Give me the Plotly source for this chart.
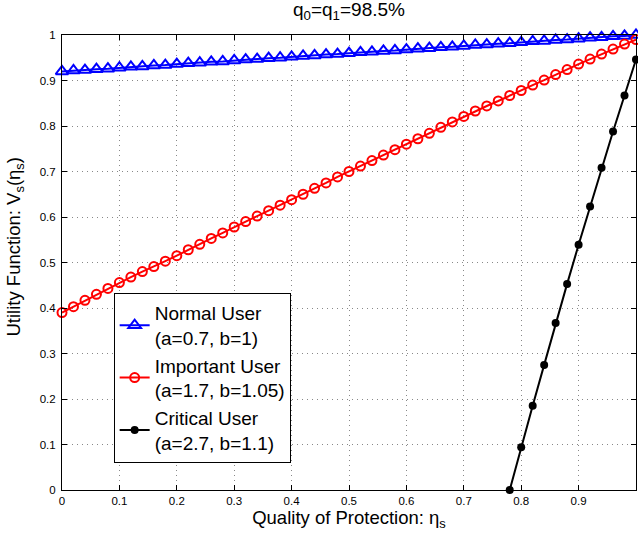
import plotly.graph_objects as go

# ---- data ----
x_common = [0.00, 0.02, 0.04, 0.06, 0.08, 0.10, 0.12, 0.14, 0.16, 0.18,
            0.20, 0.22, 0.24, 0.26, 0.28, 0.30, 0.32, 0.34, 0.36, 0.38,
            0.40, 0.42, 0.44, 0.46, 0.48, 0.50, 0.52, 0.54, 0.56, 0.58,
            0.60, 0.62, 0.64, 0.66, 0.68, 0.70, 0.72, 0.74, 0.76, 0.78,
            0.80, 0.82, 0.84, 0.86, 0.88, 0.90, 0.92, 0.94, 0.96, 0.98, 1.00]

normal_user = [0.920, 0.922, 0.923, 0.925, 0.926, 0.928, 0.930, 0.931, 0.933, 0.934,
               0.936, 0.938, 0.939, 0.941, 0.942, 0.944, 0.946, 0.947, 0.949, 0.950,
               0.952, 0.954, 0.955, 0.957, 0.958, 0.960, 0.962, 0.963, 0.965, 0.966,
               0.968, 0.970, 0.971, 0.973, 0.974, 0.976, 0.978, 0.979, 0.981, 0.982,
               0.984, 0.986, 0.987, 0.989, 0.990, 0.992, 0.994, 0.995, 0.997, 0.998, 1.000]

important_user = [0.390, 0.403, 0.417, 0.430, 0.443, 0.456, 0.468, 0.480, 0.491, 0.503,
                  0.515, 0.528, 0.540, 0.553, 0.565, 0.578, 0.590, 0.602, 0.614, 0.626,
                  0.638, 0.650, 0.663, 0.675, 0.688, 0.700, 0.712, 0.724, 0.736, 0.748,
                  0.760, 0.772, 0.784, 0.797, 0.809, 0.821, 0.833, 0.844, 0.855, 0.867,
                  0.878, 0.890, 0.901, 0.913, 0.924, 0.936, 0.947, 0.958, 0.969, 0.980, 0.990]

x_critical = [0.78, 0.80, 0.82, 0.84, 0.86, 0.88, 0.90, 0.92, 0.94, 0.96, 0.98, 1.00]
critical_user = [0.000, 0.094, 0.185, 0.275, 0.367, 0.453, 0.539, 0.623, 0.708, 0.788, 0.867, 0.946]

tick_vals = [0, 0.1, 0.2, 0.3, 0.4, 0.5, 0.6, 0.7, 0.8, 0.9, 1]
tick_text = ["0", "0.1", "0.2", "0.3", "0.4", "0.5", "0.6", "0.7", "0.8", "0.9", "1"]

FONT = "Liberation Sans, Arial, Helvetica, sans-serif"

fig = go.Figure()

fig.add_trace(go.Scatter(
    x=x_common, y=normal_user, mode="lines+markers",
    name="Normal User<br>(a=0.7, b=1)",
    line=dict(color="#0000ff", width=2),
    marker=dict(symbol="triangle-up-open", size=11, color="#0000ff",
                line=dict(width=2, color="#0000ff")),
    cliponaxis=False, legendgroup="a",
))
fig.add_trace(go.Scatter(
    x=x_common, y=important_user, mode="lines+markers",
    name="Important User<br>(a=1.7, b=1.05)",
    line=dict(color="#ff0000", width=2),
    marker=dict(symbol="circle-open", size=9, color="#ff0000",
                line=dict(width=2, color="#ff0000")),
    cliponaxis=False, legendgroup="b",
))
fig.add_trace(go.Scatter(
    x=x_critical, y=critical_user, mode="lines+markers",
    name="Critical User<br>(a=2.7, b=1.1)",
    line=dict(color="#000000", width=2),
    marker=dict(symbol="circle", size=8, color="#000000"),
    cliponaxis=False, legendgroup="c",
))

axis_common = dict(
    range=[0, 1], tickvals=tick_vals, ticktext=tick_text,
    showline=True, linecolor="black", linewidth=1, mirror="ticks",
    ticks="inside", ticklen=5, tickcolor="black", tickwidth=1,
    showgrid=True, gridcolor="#888888", gridwidth=1, griddash="1px,4px",
    zeroline=False, tickfont=dict(family=FONT, size=11.5, color="black"),
)

fig.update_xaxes(**axis_common,
                 title=dict(text="Quality of Protection: η<sub>s</sub>",
                            font=dict(family=FONT, size=18.5, color="black"),
                            standoff=2))
fig.update_yaxes(**axis_common, ticklabelstandoff=3)

fig.add_annotation(
    text="Utility Function: V<sub>s</sub>(η<sub>s</sub>)",
    xref="paper", yref="paper", x=-0.082, y=0.535,
    xanchor="center", yanchor="middle", textangle=-90, showarrow=False,
    font=dict(family=FONT, size=18.5, color="black"),
)

fig.update_layout(
    width=638, height=542,
    margin=dict(l=62, r=2, t=35, b=52),
    paper_bgcolor="white", plot_bgcolor="white",
    title=dict(text="q<sub>0</sub>=q<sub>1</sub>=98.5%",
               font=dict(family=FONT, size=19, color="black"),
               x=0.547, xanchor="center", y=0.982, yanchor="middle"),
    legend=dict(x=0.09, y=0.433, xanchor="left", yanchor="top",
                bgcolor="white", bordercolor="black", borderwidth=1,
                font=dict(family=FONT, size=19, color="black"),
                tracegroupgap=0, valign="middle"),
    showlegend=True,
)

fig.write_html(
    "out.html",
    config={"displayModeBar": False},
    post_script="document.body.style.margin='0';document.body.style.overflow='hidden';",
)
